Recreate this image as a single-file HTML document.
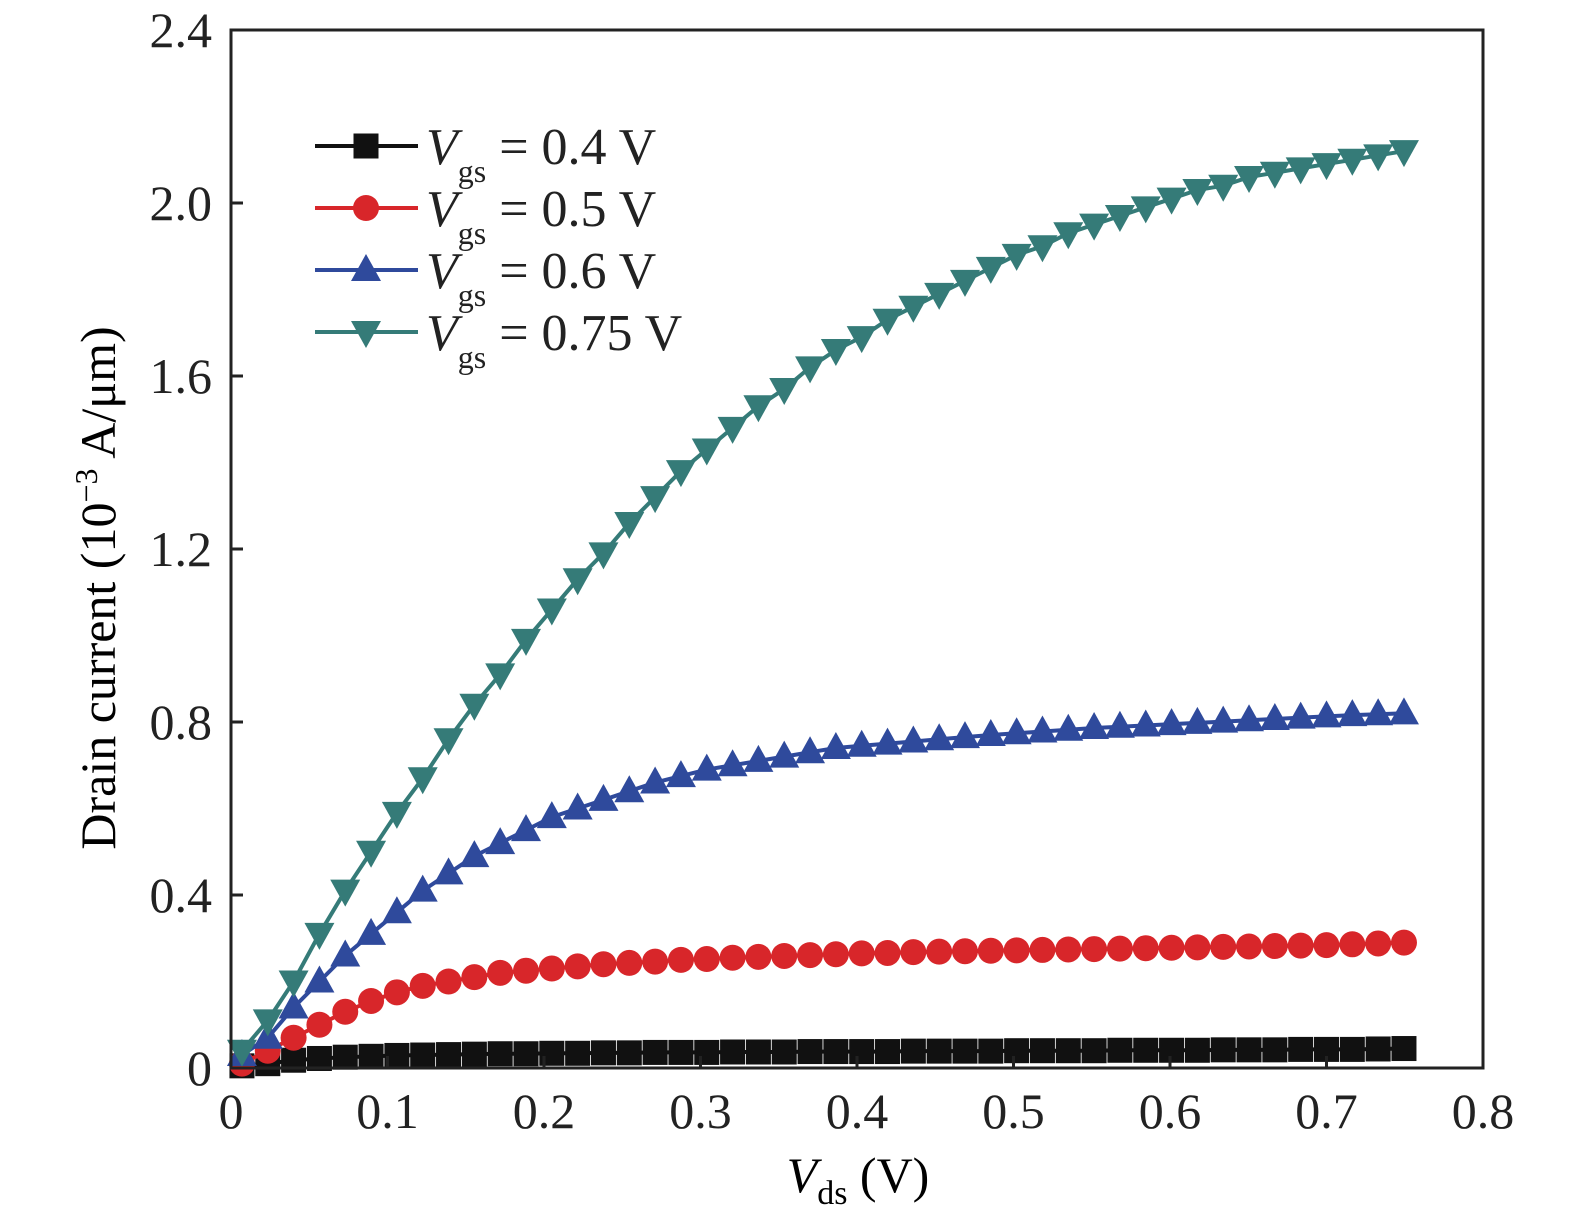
<!DOCTYPE html>
<html><head><meta charset="utf-8"><style>
html,body{margin:0;padding:0;background:#fff;}
svg{display:block;font-family:"Liberation Serif","Times New Roman",serif;}
</style></head><body>
<svg id="chart" width="1575" height="1220" viewBox="0 0 1575 1220">
<g id="marks"></g>
<rect x="231" y="30" width="1252" height="1038" fill="none" stroke="#222" stroke-width="3"/>
<g id="axes"></g>
<text x="858" y="1192" font-size="50" text-anchor="middle"><tspan font-style="italic">V</tspan><tspan font-size="34" dy="12">ds</tspan><tspan dy="-12"> (V)</tspan></text>
<text transform="translate(115,588) rotate(-90)" font-size="50" text-anchor="middle">Drain current (10<tspan font-size="32" dy="-18">−3</tspan><tspan dy="18"> A/μm)</tspan></text>
<g id="legend"></g>
</svg>
<script>
const xTicks=[0,0.1,0.2,0.3,0.4,0.5,0.6,0.7,0.8];
const xTickLabels=["0","0.1","0.2","0.3","0.4","0.5","0.6","0.7","0.8"];
const yTicks=[0,0.4,0.8,1.2,1.6,2.0,2.4];
const yTickLabels=["0","0.4","0.8","1.2","1.6","2.0","2.4"];
const vdsStart=0.007, vdsStep=0.0165;
const seriesNames=["Vgs = 0.4 V","Vgs = 0.5 V","Vgs = 0.6 V","Vgs = 0.75 V"];
const legendLabels=["0.4 V","0.5 V","0.6 V","0.75 V"];
const id04=[0.005,0.01,0.018,0.022,0.025,0.027,0.029,0.03,0.031,0.032,0.033,0.033,0.034,0.034,0.035,0.035,0.036,0.036,0.036,0.037,0.037,0.037,0.038,0.038,0.038,0.038,0.039,0.039,0.039,0.039,0.04,0.04,0.04,0.04,0.041,0.041,0.041,0.041,0.042,0.042,0.042,0.043,0.043,0.043,0.044,0.045];
const id05=[0.01,0.04,0.07,0.10,0.13,0.155,0.175,0.19,0.20,0.21,0.22,0.225,0.23,0.235,0.24,0.243,0.246,0.25,0.252,0.255,0.257,0.259,0.261,0.263,0.265,0.266,0.268,0.269,0.27,0.271,0.272,0.273,0.274,0.275,0.276,0.277,0.278,0.279,0.28,0.281,0.282,0.283,0.284,0.286,0.288,0.29];
const id06=[0.03,0.07,0.14,0.20,0.26,0.31,0.36,0.41,0.45,0.49,0.52,0.55,0.58,0.60,0.62,0.64,0.66,0.675,0.69,0.70,0.71,0.72,0.73,0.74,0.745,0.75,0.755,0.76,0.765,0.77,0.774,0.778,0.782,0.786,0.789,0.792,0.795,0.798,0.801,0.804,0.807,0.81,0.813,0.816,0.818,0.82];
const id075=[0.04,0.11,0.20,0.31,0.41,0.50,0.59,0.67,0.76,0.84,0.91,0.99,1.06,1.13,1.19,1.26,1.32,1.38,1.43,1.48,1.53,1.57,1.62,1.66,1.69,1.73,1.76,1.79,1.82,1.85,1.88,1.90,1.93,1.95,1.97,1.99,2.01,2.03,2.04,2.06,2.07,2.08,2.09,2.10,2.11,2.12];
const NS="http://www.w3.org/2000/svg";
const X0=231,X1=1483,Y0=1068,Y1=30;
function xs(v){return X0+(v/0.8)*(X1-X0);}
function ys(v){return Y0-(v/2.4)*(Y0-Y1);}
function mk(tag,attrs,parent){const e=document.createElementNS(NS,tag);for(const k in attrs)e.setAttribute(k,attrs[k]);parent.appendChild(e);return e;}
const axes=document.getElementById('axes');
xTicks.forEach((t,i)=>{
 const l=mk('line',{x1:xs(t),x2:xs(t),y1:Y0,y2:Y0-12,stroke:'#222','stroke-width':3},axes);
 
 
 const tx=mk('text',{x:xs(t),y:1128,'font-size':50,'text-anchor':'middle',fill:'#222'},axes);
 tx.textContent=xTickLabels[i];
 
 
});
yTicks.forEach((t,i)=>{
 const l=mk('line',{x1:X0,x2:X0+12,y1:ys(t),y2:ys(t),stroke:'#222','stroke-width':3},axes);
 
 
 const tx=mk('text',{x:212,y:ys(t)+17,'font-size':50,'text-anchor':'end',fill:'#222'},axes);
 tx.textContent=yTickLabels[i];
 
 
});
const colors=["#111111","#d8262a","#2f4a9c","#357b78"];
const shapes=["square","circle","up","down"];
const data=[id04,id05,id06,id075];
function marker(g,shape,cx,cy,c){
 let e;
 if(shape==="square")e=mk('rect',{x:cx-12.5,y:cy-12.5,width:25,height:25,fill:c},g);
 else if(shape==="circle")e=mk('circle',{cx:cx,cy:cy,r:13,fill:c},g);
 else if(shape==="up")e=mk('polygon',{points:`${cx},${cy-16} ${cx-15},${cy+11} ${cx+15},${cy+11}`,fill:c},g);
 else e=mk('polygon',{points:`${cx},${cy+16} ${cx-15},${cy-11} ${cx+15},${cy-11}`,fill:c},g);
 return e;
}
const marks=document.getElementById('marks');
data.forEach((arr,si)=>{
 const g=mk('g',{},marks);
 
 
 const pts=arr.map((v,i)=>xs(vdsStart+i*vdsStep)+','+ys(v)).join(' ');
 const pl=mk('polyline',{points:pts,fill:'none',stroke:colors[si],'stroke-width':4},g);
 
 
 arr.forEach((v,i)=>{
  const m=marker(g,shapes[si],xs(vdsStart+i*vdsStep),ys(v),colors[si]);
  
  
 });
});
const legend=document.getElementById('legend');
legendLabels.forEach((lab,i)=>{
 const y=146+i*62;
 const g=mk('g',{},legend);
 
 
 mk('line',{x1:315,x2:418,y1:y,y2:y,stroke:colors[i],'stroke-width':4},g);
 marker(g,shapes[i],366,y,colors[i]);
 const t=mk('text',{x:426,y:y+18,'font-size':52,fill:'#222'},g);
 t.innerHTML='<tspan font-style="italic">V</tspan><tspan font-size="32" dy="18">gs</tspan><tspan dy="-18"> = '+lab+'</tspan>';
});
</script>
</body></html>
